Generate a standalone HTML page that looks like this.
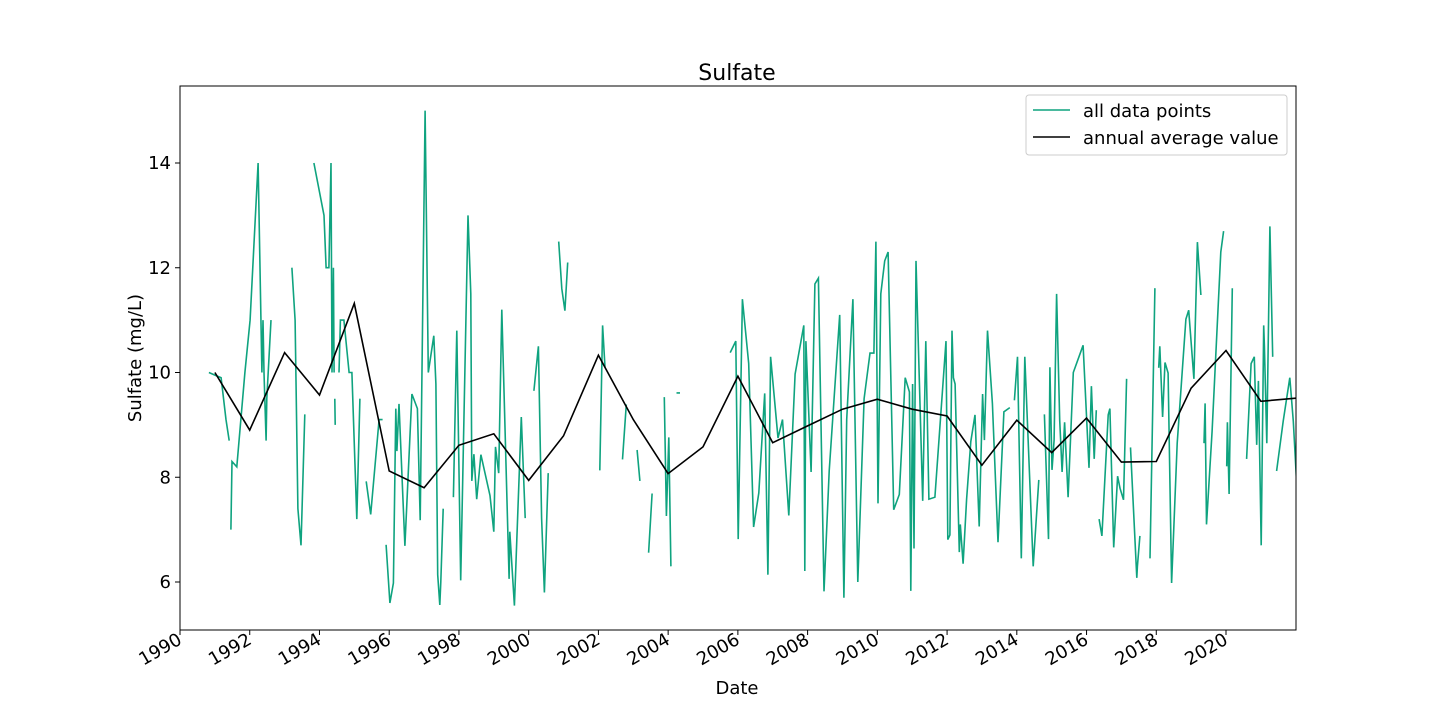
<!DOCTYPE html>
<html><head><meta charset="utf-8"><style>
body{margin:0;background:#fff;font-family:"Liberation Sans","DejaVu Sans",sans-serif}
svg text{font-family:"DejaVu Sans","Liberation Sans",sans-serif;fill:#000}
</style></head><body>
<svg id="chart" width="1440" height="720" xmlns="http://www.w3.org/2000/svg">
<rect width="1440" height="720" fill="#fff"/>
<text x="737" y="80" font-size="22" text-anchor="middle">Sulfate</text>
<text x="737" y="694" font-size="18" text-anchor="middle">Date</text>
<text transform="translate(141,358) rotate(-90)" font-size="18" text-anchor="middle">Sulfate (mg/L)</text>
<g id="plot"></g>
<g>
<rect x="1026" y="95" width="261" height="60" rx="3" fill="#fff" fill-opacity="0.8" stroke="#ccc"/>
<line x1="1033" y1="110" x2="1070" y2="110" stroke="#0fa37f" stroke-width="1.5"/>
<text x="1083" y="117" font-size="18">all data points</text>
<line x1="1033" y1="137" x2="1070" y2="137" stroke="#000" stroke-width="1.5"/>
<text x="1083" y="144" font-size="18">annual average value</text>
</g>
</svg>
<script>
const xTicks=[1990,1992,1994,1996,1998,2000,2002,2004,2006,2008,2010,2012,2014,2016,2018,2020];
const yTicks=[6,8,10,12,14];
const annualYears=[1991,1992,1993,1994,1995,1996,1997,1998,1999,2000,2001,2002,2003,2004,2005,2006,2007,2008,2009,2010,2011,2012,2013,2014,2015,2016,2017,2018,2019,2020,2021,2022];
const annualValues=[10.0,8.9,10.38,9.57,11.32,8.12,7.8,8.61,8.83,7.94,8.79,10.33,9.1,8.07,8.58,9.93,8.66,8.98,9.3,9.49,9.3,9.17,8.23,9.09,8.47,9.13,8.29,8.3,9.7,10.42,9.45,9.51];
const greenPairs=[
[0.83,10],[1.0,9.95],[1.18,9.9],[1.32,9.1],[1.41,8.7],null,[1.46,7.0],[1.49,8.3],[1.63,8.2],[1.86,10],[2.01,11],[2.24,14],[2.35,10],[2.38,11],[2.41,10],[2.47,8.7],[2.49,9.5],[2.61,11],null,
[3.21,12],[3.30,11],[3.38,7.4],[3.47,6.7],[3.58,9.2],null,
[3.84,14],[4.13,13],[4.19,12],[4.27,12],[4.33,14],[4.36,10],[4.40,12],[4.42,10],null,[4.44,9.5],[4.45,9.0],null,[4.56,10],[4.60,11],[4.70,11],[4.85,10],[4.93,10],[5.07,7.2],[5.16,9.5],null,
[5.34,7.92],[5.47,7.29],[5.71,9.1],[5.81,9.1],null,
[5.91,6.71],[6.02,5.6],[6.12,5.98],[6.19,9.31],[6.22,8.5],[6.28,9.4],[6.45,6.69],[6.65,9.59],[6.81,9.31],[6.89,7.18],[7.03,15.0],[7.12,10],[7.28,10.7],[7.34,9.78],[7.39,6.14],[7.45,5.56],[7.48,6.0],[7.55,7.4],null,
[7.84,7.62],[7.94,10.8],[8.05,6.03],[8.26,13.0],[8.34,11.5],[8.37,7.93],[8.43,8.44],[8.51,7.58],[8.63,8.43],[8.89,7.65],[9.00,6.96],[9.05,8.58],[9.14,8.08],[9.23,11.2],[9.44,6.06],[9.46,6.96],[9.59,5.55],[9.79,9.15],[9.90,7.22],null,
[10.15,9.65],[10.28,10.5],[10.37,7.22],[10.45,5.8],[10.56,8.08],null,
[10.86,12.5],[10.95,11.6],[11.04,11.18],[11.12,12.1],null,
[12.04,8.13],[12.12,10.9],[12.19,10.1],null,[12.69,8.34],[12.80,9.39],null,[13.11,8.52],[13.19,7.93],null,[13.44,6.56],[13.54,7.69],null,
[13.89,9.53],[13.95,7.26],[14.02,8.76],[14.08,6.3],null,[14.24,9.61],[14.34,9.61],null,
[15.78,10.38],[15.94,10.6],[16.01,6.82],[16.13,11.4],[16.31,10.17],[16.45,7.05],[16.60,7.7],[16.77,9.6],[16.86,6.14],[16.94,10.3],[17.15,8.75],[17.28,9.1],[17.46,7.27],[17.64,9.97],[17.89,10.9],[17.92,6.21],[17.95,10.6],[18.10,8.1],[18.21,11.69],[18.31,11.8],[18.47,5.82],[18.62,8.12],[18.92,11.1],[19.04,5.7],[19.12,9.1],[19.30,11.4],[19.44,6.0],[19.62,9.5],[19.79,10.37],[19.90,10.37],[19.96,12.5],[20.02,7.5],[20.10,11.5],[20.21,12.13],[20.31,12.3],[20.47,7.38],[20.63,7.67],[20.80,9.9],[20.92,9.63],[20.96,5.83],[21.01,9.78],[21.05,6.64],[21.11,12.13],[21.30,7.55],[21.39,10.6],[21.48,7.58],[21.65,7.62],[21.97,10.6],[22.02,6.81],[22.08,6.9],[22.14,10.8],[22.18,9.9],[22.23,9.78],[22.35,6.57],[22.38,7.1],[22.46,6.35],[22.56,7.58],[22.68,8.68],[22.80,9.19],[22.92,7.06],[23.02,9.59],[23.07,8.71],[23.16,10.8],[23.30,9.41],[23.46,6.76],[23.63,9.25],[23.80,9.33],null,
[23.93,9.47],[24.02,10.3],[24.13,6.45],[24.23,10.3],[24.47,6.3],[24.63,7.95],null,
[24.79,9.2],[24.91,6.82],[24.95,10.1],[25.01,8.14],[25.07,8.71],[25.14,11.5],[25.23,9.09],[25.30,8.1],[25.37,9.05],[25.47,7.62],[25.62,10.0],[25.90,10.52],[26.07,8.18],[26.14,9.74],[26.22,8.35],[26.28,9.28],null,
[26.36,7.2],[26.44,6.88],[26.62,9.19],[26.67,9.31],[26.78,6.66],[26.89,8.02],[26.96,7.79],[27.06,7.57],[27.15,9.88],null,
[27.26,8.57],[27.44,6.08],[27.46,6.3],[27.53,6.88],null,[27.82,6.45],[27.96,11.61],null,
[28.07,10.09],[28.10,10.5],[28.18,9.15],[28.25,10.19],[28.34,9.99],[28.44,5.98],[28.60,8.65],[28.85,11.02],[28.93,11.19],[29.08,9.88],[29.18,12.49],[29.28,11.48],null,
[29.37,8.65],[29.40,9.41],[29.44,7.1],[29.60,8.88],[29.85,12.3],[29.93,12.7],null,
[30.02,8.21],[30.04,9.05],[30.09,7.68],[30.18,11.61],null,
[30.59,8.35],[30.72,10.17],[30.81,10.3],[30.88,8.62],[30.93,9.84],[31.01,6.7],[31.08,10.9],[31.10,10.5],[31.17,8.65],[31.26,12.79],[31.34,10.3],null,
[31.45,8.12],[31.64,9.07],[31.83,9.9],[31.93,9.07],[32.02,7.98]
];
const L=180,R=1296,T=86,B=630;
const xMin=1990,xMax=1990+(R-L)/34.867;
const yMin=6-(B-582)/52.375,yMax=14+(163-T)/52.375;
function xs(v){return L+(v-xMin)/(xMax-xMin)*(R-L);}
function ys(v){return B-(v-yMin)/(yMax-yMin)*(B-T);}
const NS="http://www.w3.org/2000/svg";
const plot=document.getElementById('plot');
function mk(tag,attrs){const e=document.createElementNS(NS,tag);for(const k in attrs)e.setAttribute(k,attrs[k]);return e;}
const clip=mk('clipPath',{id:'pc'});clip.appendChild(mk('rect',{x:L,y:T,width:R-L,height:B-T}));plot.appendChild(clip);
let d='',pen=false;
greenPairs.forEach(p=>{if(!p){pen=false;return;}const X=xs(1990+p[0]),Y=ys(p[1]);d+=(pen?'L':'M')+X.toFixed(1)+' '+Y.toFixed(1);pen=true;});
const g=mk('path',{d:d,fill:'none',stroke:'#0fa37f','stroke-width':1.6,'clip-path':'url(#pc)'});


plot.appendChild(g);
let d2='';annualYears.forEach((yr,i)=>{d2+=(i?'L':'M')+xs(yr).toFixed(1)+' '+ys(annualValues[i]).toFixed(1);});
const a=mk('path',{d:d2,fill:'none',stroke:'#000','stroke-width':1.6,'clip-path':'url(#pc)'});


plot.appendChild(a);
const fr=mk('rect',{x:L,y:T,width:R-L,height:B-T,fill:'none',stroke:'#000','stroke-width':1});


plot.appendChild(fr);
xTicks.forEach(t=>{const X=xs(t);
const tk=mk('line',{x1:X,y1:B,x2:X,y2:B+5,stroke:'#000'});


plot.appendChild(tk);
const tx=mk('text',{transform:`translate(${X+3},${B+13}) rotate(-30)`,'font-size':18,'text-anchor':'end'});


tx.textContent=t;plot.appendChild(tx);});
yTicks.forEach(t=>{const Y=ys(t);
const tk=mk('line',{x1:L-5,y1:Y,x2:L,y2:Y,stroke:'#000'});


plot.appendChild(tk);
const tx=mk('text',{x:L-9,y:Y+6,'font-size':18,'text-anchor':'end'});


tx.textContent=t;plot.appendChild(tx);});
</script>
</body></html>
